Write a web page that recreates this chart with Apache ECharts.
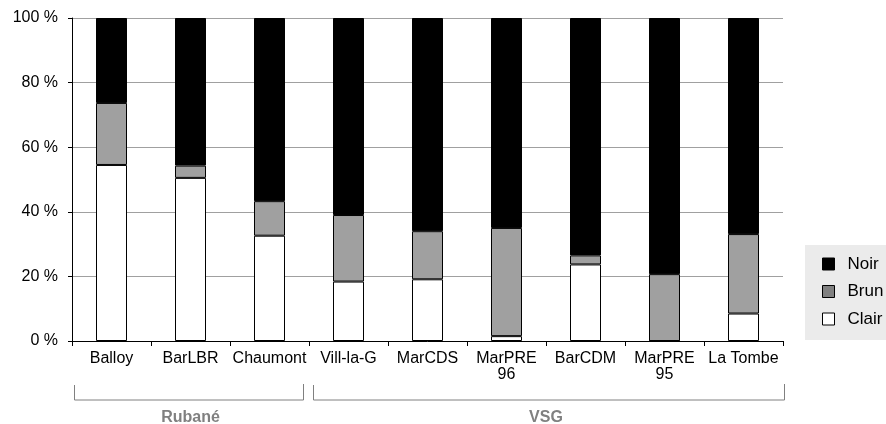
<!DOCTYPE html>
<html>
<head>
<meta charset="utf-8">
<script src="https://cdn.jsdelivr.net/npm/echarts@6/dist/echarts.min.js"></script>
<style>html,body{margin:0;padding:0;background:#fff}#c{width:886px;height:424px}</style>
</head>
<body>
<div id="c"></div>
<script>
var categories = ['Balloy', 'BarLBR', 'Chaumont', 'Vill-la-G', 'MarCDS', 'MarPRE\n96', 'BarCDM', 'MarPRE\n95', 'La Tombe'];
var clair = [54.5, 50.5, 32.6, 18.4, 19.1, 1.5, 23.7, 0, 8.5];
var brun  = [19.2, 3.8, 10.7, 20.6, 14.9, 33.5, 2.8, 20.7, 24.6];
var noir  = [26.3, 45.7, 56.7, 61.0, 66.0, 65.0, 73.5, 79.3, 66.9];
var yTicks = [0, 20, 40, 60, 80, 100];
var groups = [
  {name: 'Rubané', from: 0, to: 2},
  {name: 'VSG', from: 3, to: 8}
];

var chart = echarts.init(document.getElementById('c'), null, {renderer: 'canvas'});
var font = 'Liberation Sans, Arial, sans-serif';
var G = {left: 72, right: 103, top: 18, bottom: 83};

var option = {
  animation: false,
  backgroundColor: '#ffffff',
  textStyle: {fontFamily: font},
  grid: {left: G.left, right: G.right, top: G.top, bottom: G.bottom, containLabel: false},
  legend: {
    orient: 'vertical',
    left: 805, top: 245,
    padding: [10, 30, 12, 17],
    backgroundColor: '#ebebeb',
    itemGap: 9.5,
    itemWidth: 12,
    itemHeight: 12,
    icon: 'rect',
    textStyle: {fontSize: 17, color: '#000', fontFamily: font, padding: [0, 0, 0, 8], lineHeight: 18},
    data: [
      {name: 'Noir', itemStyle: {color: '#000', borderColor: '#000', borderWidth: 1}},
      {name: 'Brun', itemStyle: {color: '#808080', borderColor: '#000', borderWidth: 1}},
      {name: 'Clair', itemStyle: {color: '#fff', borderColor: '#000', borderWidth: 1}}
    ]
  },
  xAxis: {
    type: 'category',
    data: categories,
    axisLine: {lineStyle: {color: '#000', width: 1}},
    axisTick: {show: true, length: 5, lineStyle: {color: '#000'}},
    axisLabel: {fontSize: 16, color: '#000', fontFamily: font, margin: 10, lineHeight: 16, interval: 0}
  },
  yAxis: {
    type: 'value',
    min: 0, max: 100, interval: 20,
    axisLine: {show: true, lineStyle: {color: '#000', width: 1}},
    axisTick: {show: true, length: 4, lineStyle: {color: '#000'}},
    axisLabel: {fontSize: 16, color: '#000', fontFamily: font, margin: 14,
      formatter: function (v) { return yTicks.indexOf(v) >= 0 ? v + ' %' : ''; }},
    splitLine: {show: true, lineStyle: {color: '#a0a0a0', width: 1}}
  },
  series: [
    {name: 'Clair', type: 'bar', stack: 't', data: clair, barWidth: 31,
      itemStyle: {color: '#ffffff', borderColor: '#000', borderWidth: 1}},
    {name: 'Brun', type: 'bar', stack: 't', data: brun, barWidth: 31,
      itemStyle: {color: '#a0a0a0', borderColor: '#000', borderWidth: 1}},
    {name: 'Noir', type: 'bar', stack: 't', data: noir, barWidth: 31,
      itemStyle: {color: '#000000', borderColor: '#000', borderWidth: 1}}
  ]
};
chart.setOption(option);

// group brackets beneath the axis
var x0 = chart.convertToPixel({xAxisIndex: 0}, 0);
var x1 = chart.convertToPixel({xAxisIndex: 0}, 1);
var step = x1 - x0;
var elems = [];
var yLine = 400, yTopL = 385, yTopR = 384;
groups.forEach(function (g, i) {
  var a = chart.convertToPixel({xAxisIndex: 0}, g.from) - step / 2;
  var b = chart.convertToPixel({xAxisIndex: 0}, g.to) + step / 2;
  var l = a + (i === 0 ? 2.5 : 4.5);
  var r = b - (i === groups.length - 1 ? -1.5 : 5.5);
  elems.push({type: 'polyline', silent: true,
    shape: {points: [[l, yTopL], [l, yLine], [r, yLine], [r, yTopR]]},
    style: {stroke: '#808080', lineWidth: 1, fill: null}});
  elems.push({type: 'text', silent: true, x: (a + b) / 2, y: 418,
    style: {text: g.name, fill: '#808080', font: 'bold 16px ' + font, align: 'center', verticalAlign: 'middle'}});
});
chart.setOption({graphic: elems});
</script>
</body>
</html>
